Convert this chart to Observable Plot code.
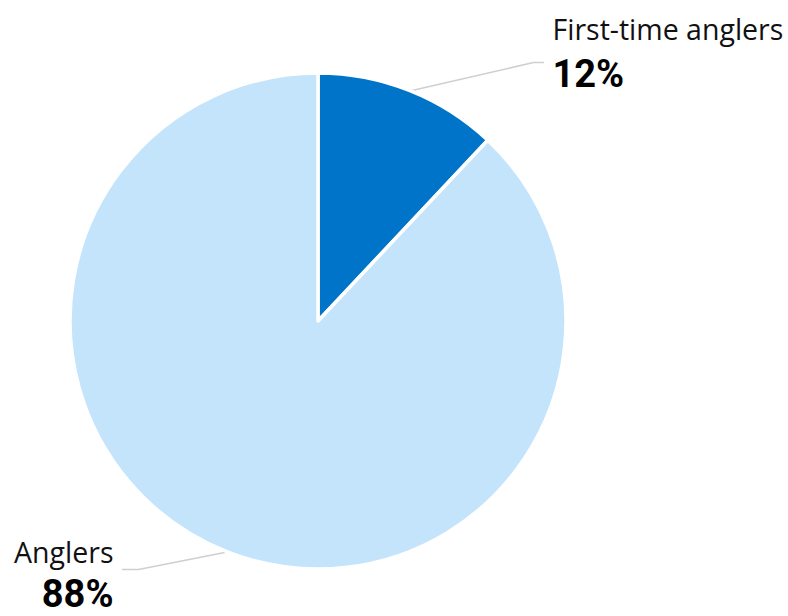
<!DOCTYPE html>
<html>
<head>
<meta charset="utf-8">
<script src="https://cdn.jsdelivr.net/npm/d3@7"></script>
<script src="https://cdn.jsdelivr.net/npm/@observablehq/plot@0.6"></script>
<style>
  html, body { margin: 0; padding: 0; background: #fff; }
  svg { display: block; }
</style>
</head>
<body>
<div id="chart"></div>
<script>
// Data
const categories = ["First-time anglers", "Anglers"];
const shares = [12, 88];
const shareLabels = ["12%", "88%"];
const colors = ["#0074c8", "#c4e4fc"];

// Layout (pixel offsets relative to pie centre)
const W = 788, H = 616;
const CX = 318, CY = 321, R = 248;
const elbows = [[215, -259], [-180, 248]];
const ends = [[225, -259], [-196, 248]];
const textX = [234, -205];
const nameY = [-282, 241];
const pctY = [-235, 285];
const anchors = ["start", "end"];

const data = categories.map((c, i) => ({category: c, value: shares[i], label: shareLabels[i], i}));
const arcs = d3.pie().value(d => d.value).sort(null)(data);

const leaders = [];
arcs.forEach((a, i) => {
  const mid = (a.startAngle + a.endAngle) / 2;
  leaders.push({i, x: R * Math.sin(mid), y: -R * Math.cos(mid)});
  leaders.push({i, x: elbows[i][0], y: elbows[i][1]});
  leaders.push({i, x: ends[i][0], y: ends[i][1]});
});

const pieMark = (index, scales, values, dimensions, context) => {
  const cx = scales.x(0), cy = scales.y(0);
  const r = scales.x(R) - scales.x(0);
  const g = d3.create("svg:g");
  const arcGen = d3.arc().innerRadius(0).outerRadius(r);
  g.selectAll("path")
    .data(arcs)
    .join("path")
    .attr("transform", `translate(${cx},${cy})`)
    .attr("d", arcGen)
    .attr("fill", d => scales.color(d.data.category))
    .attr("stroke", "#fff")
    .attr("stroke-width", 3.5)
    .attr("stroke-linejoin", "round");
  return g.node();
};

const labelData = data.map((d, i) => ({...d, x: textX[i], yName: nameY[i], yPct: pctY[i], anchor: anchors[i]}));

const plot = Plot.plot({
  width: W,
  height: H,
  margin: 0,
  x: {domain: [-CX, W - CX], range: [0, W], axis: null},
  y: {domain: [-CY, H - CY], range: [0, H], axis: null},
  color: {domain: categories, range: colors},
  style: {fontFamily: "'Open Sans', 'Noto Sans', sans-serif", background: "#fff"},
  marks: [
    Plot.line(leaders, {x: "x", y: "y", z: "i", stroke: "#cfcfcf", strokeWidth: 1.5}),
    Plot.dot([{category: categories[0]}], {x: () => 0, y: () => 0, r: 0, fill: "category"}),
    pieMark,
    ...labelData.map(d => Plot.text([d], {x: "x", y: "yName", text: "category", textAnchor: d.anchor, lineAnchor: "bottom", fontSize: 28.5, fill: "#111"})),
    ...labelData.map(d => Plot.text([d], {x: "x", y: "yPct", text: "label", textAnchor: d.anchor, lineAnchor: "bottom", fontSize: 38, fontWeight: "bold", fill: "#000", fontFamily: "Roboto, 'Open Sans', sans-serif"}))
  ]
});
document.getElementById("chart").appendChild(plot);
</script>
</body>
</html>
